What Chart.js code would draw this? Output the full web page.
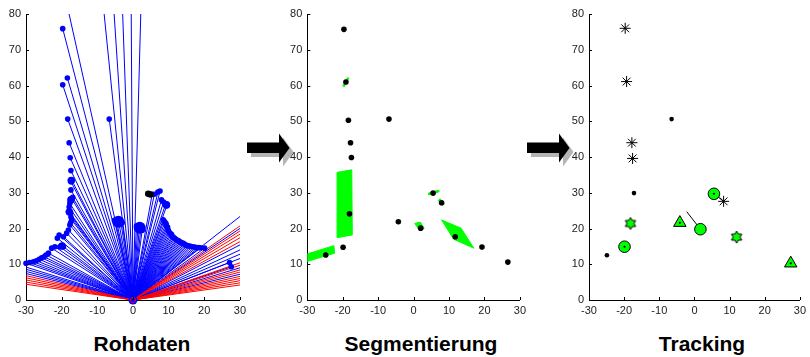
<!DOCTYPE html>
<html><head><meta charset="utf-8">
<script src="https://cdn.jsdelivr.net/npm/chart.js@4.4.1/dist/chart.umd.min.js"></script>
<style>
html,body{margin:0;padding:0;background:#fff;width:810px;height:357px;overflow:hidden;position:relative}
canvas{position:absolute;top:0}
.title{position:absolute;top:332px;font:bold 21px "Liberation Sans",Arial,sans-serif;line-height:24px;color:#000;transform:translateX(-50%);white-space:nowrap}
svg{position:absolute;left:0;top:0}
</style></head><body>
<svg width="810" height="357">
  <g id="arr">
    <path d="M251,146.5 L283,146.5 L283,137.5 L293.5,152 L283,166.5 L283,157 L251,157 Z" fill="#b4b4b4"/>
    <path d="M247,142.5 L279,142.5 L279,133.5 L289.5,148 L279,162.5 L279,153 L247,153 Z" fill="#000"/>
  </g>
  <use href="#arr" x="280" y="0"/>
</svg>
<canvas id="c1" width="250" height="325" style="left:0px"></canvas>
<canvas id="c2" width="250" height="325" style="left:280px"></canvas>
<canvas id="c3" width="250" height="325" style="left:560px"></canvas>
<div class="title" style="left:142px">Rohdaten</div>
<div class="title" style="left:421px">Segmentierung</div>
<div class="title" style="left:702px">Tracking</div>
<script>
// ---------- shared ticks ----------
const xTicks = [-30, -20, -10, 0, 10, 20, 30];
const yTicks = [0, 10, 20, 30, 40, 50, 60, 70, 80];

// ---------- Panel 1: Rohdaten ----------
const hitX = [27.6,27.1,
 20.1,19.0,18.4,17.8,17.3,16.7,16.2,15.7,15.3,14.9,14.6,14.3,14.0,13.6,13.3,13.0,12.7,12.3,12.1,11.8,11.5,11.2,11.0,10.8,10.5,10.2,10.0,9.8,9.7,9.4,9.3,9.0,8.7,8.5,
 9.5,9.2,8.6,8.0,7.6,7.0,6.0,5.4,
 2.6,2.2,1.8,1.4,1.0,
 -3.0,-3.4,-4.0,-4.6,-5.2,
 -6.65,
 -19.7,-18.4,-19.7,-18.3,-17.9,-17.6,-17.4,-17.2,-17.4,-17.4,-16.9,-17.2,-17.7,-17.9,-18.1,-17.5,-17.4,-17.2,-17.5,-17.7,-18.1,-18.6,-19.5,-20.7,-21.2,-19.5,-20.5,-21.9,-22.8,-23.7,-24.4,-24.95,-25.6,-26.3,-27.1,-27.95,-29.0,-30.0];
const hitY = [9.3,10.5,
 14.5,14.6,14.65,14.7,14.8,14.9,15.0,15.1,15.2,15.3,15.5,15.7,15.9,16.0,16.2,16.4,16.6,16.7,16.9,17.2,17.4,17.6,17.9,18.4,18.6,18.9,19.3,19.8,20.4,20.6,21.3,21.7,22.1,22.4,
 26.4,26.9,27.4,28.0,30.5,30.2,29.6,29.6,
 19.5,19.7,20.0,20.4,20.7,
 21.6,21.8,21.9,22.1,22.3,
 50.6,
 75.9,62.1,60.2,50.6,44.0,39.8,36.2,33.6,33.1,30.8,28.7,28.4,27.0,26.0,24.7,24.2,23.2,22.4,21.6,21.0,19.6,18.7,17.7,18.2,17.3,14.9,14.9,14.9,14.5,13.1,12.6,12.1,11.8,11.4,11.0,10.7,10.5,10.3];
const blobX = [-4.1, 1.9];
const blobY = [21.9, 20.2];
const midHitX = [-17.3, -17.8, -19.9, 9.4, -17.4];
const midHitY = [33.4, 24.6, 15.1, 26.6, 28.0];
const blackHitX = [4.3, 4.9];
const blackHitY = [29.7, 29.5];
// rays with no hit inside the view (blue), endpoints outside plot
const farX = [-22.4,-10.1,-6.6,-3.6,-0.6,2.75, -45,-45,-45,-45, 45,45,45,45,45,45,45,45];
const farY = [100,100,100,100,100,100, 13.8,12.9,12.0,11.1, 35.0,30.0,23.1,21.0,19.2,17.4,13.5,10.8];
// rays without return (red)
const missX = [-45,-45,-45,-45,-45, 45,45,45,45,45,45,45,45,45,45,45,45,45,45];
const missY = [10.2,9.3,8.4,7.5,6.6, 31.05,28.95,27.6,26.1,24.45,15.6,14.55,12.6,11.7,9.9,9.0,8.1,7.2,6.3];
const sensorX = [0];
const sensorY = [0];

// ---------- Panel 2: Segmentierung ----------
const segDotX = [-19.66,-19.1,-18.4,-17.8,-17.55,-18.1,-19.9,-24.8,-6.95,-4.3,2.0,5.5,7.9,11.75,19.3,26.6];
const segDotY = [75.7,61.0,50.3,44.0,39.85,24.1,14.75,12.6,50.6,21.9,20.1,29.9,27.2,17.7,14.8,10.6];
const segA_X = [-30.6,-22.5,-22.3,-30.6]; const segA_Y = [12.7,15.2,13.1,10.6];
const segB_X = [-21.6,-17.45,-17.3,-21.4]; const segB_Y = [35.7,36.4,18.2,17.45];
const segC_X = [-19.85,-18.4]; const segC_Y = [59.7,62.2];
const segD_X = [0.3,1.9,3.0,1.8]; const segD_Y = [21.4,21.8,20.0,19.4];
const segE_X = [4.2,7.0,7.1,4.3]; const segE_Y = [29.9,30.7,30.2,29.4];
const segF_X = [7.15,8.5]; const segF_Y = [28.2,26.6];
const segG_X = [7.9,13.4,17.0,11.3]; const segG_Y = [22.4,20.1,14.5,17.0];

// ---------- Panel 3: Tracking ----------
const starX = [-19.7,-19.3,-17.8,-17.6,8.3];
const starY = [76.0,61.1,44.0,39.6,27.6];
const dotX = [-6.5,-17.2,-24.9];
const dotY = [50.6,29.9,12.5];
const circX = [-19.9,1.7,5.55];
const circY = [14.9,19.8,29.7];
const triX = [-4.15,27.4];
const triY = [21.6,10.25];
const hexX = [-18.2,12.0];
const hexY = [21.4,17.6];
const centerX = [5.55,-4.15,27.4,-19.9];
const centerY = [29.7,21.6,10.25,14.9];
const velFromX = [-2.2, 5.55]; const velFromY = [24.7, 29.7];
const velToX = [1.7, 8.3];     const velToY = [19.8, 27.6];

// ---------- helpers ----------
const pts = (xs, ys) => xs.map((x, i) => ({x, y: ys[i]}));
const rays = (xs, ys) => { const d = []; xs.forEach((x, i) => { d.push({x: 0, y: 0}, {x, y: ys[i]}, {x: NaN, y: NaN}); }); return d; };
const poly = (xs, ys) => { const d = pts(xs, ys); d.push({x: xs[0], y: ys[0]}); return d; };
const segs = (ax, ay, bx, by) => { const d = []; ax.forEach((x, i) => d.push({x, y: ay[i]}, {x: bx[i], y: by[i]}, {x: NaN, y: NaN})); return d; };

const inwardTicks = {
  id: 'inwardTicks',
  afterDraw(chart) {
    const {ctx, chartArea: a, scales: {x, y}} = chart;
    ctx.save(); ctx.strokeStyle = '#000'; ctx.lineWidth = 1; ctx.beginPath();
    x.ticks.forEach(t => { const p = Math.round(x.getPixelForValue(t.value)) + 0.5; ctx.moveTo(p, a.bottom); ctx.lineTo(p, a.bottom - 3); });
    y.ticks.forEach(t => { const p = Math.round(y.getPixelForValue(t.value)) + 0.5; ctx.moveTo(a.left, p); ctx.lineTo(a.left + 3, p); });
    ctx.stroke(); ctx.restore();
  }
};

const tickFont = {family: '"Liberation Sans", Arial, sans-serif', size: 11};
function makeScales(yW) {
  return {
    x: {type: 'linear', min: -30, max: 30,
        afterFit(s) { s.height = 25; },
        afterBuildTicks(s) { s.ticks = xTicks.map(v => ({value: v})); },
        grid: {display: false, drawTicks: false},
        border: {display: true, color: '#000', width: 1},
        ticks: {padding: 4, color: '#222', font: tickFont, maxRotation: 0, autoSkip: false}},
    y: {type: 'linear', min: 0, max: 80,
        afterFit(s) { s.width = yW; },
        afterBuildTicks(s) { s.ticks = yTicks.map(v => ({value: v})); },
        grid: {display: false, drawTicks: false},
        border: {display: true, color: '#000', width: 1},
        ticks: {padding: 5, color: '#222', font: tickFont, autoSkip: false}}
  };
}
function makeChart(id, datasets, yW, padRight) {
  return new Chart(document.getElementById(id), {
    type: 'scatter',
    data: {datasets},
    options: {
      responsive: false, animation: false, devicePixelRatio: 1,
      layout: {autoPadding: false, padding: {top: 14, right: padRight, left: 0, bottom: 0}},
      plugins: {legend: {display: false}, tooltip: {enabled: false}},
      scales: makeScales(yW),
      elements: {line: {tension: 0}}
    },
    plugins: [inwardTicks]
  });
}

const BLUE = '#0000ff', RED = '#ff0000', GREEN = '#00ff00';
function dots(xs, ys, color, r, extra) {
  return Object.assign({data: pts(xs, ys), pointRadius: r, pointBackgroundColor: color, pointBorderColor: color, pointBorderWidth: 0, showLine: false, clip: false}, extra || {});
}

// Panel 1
makeChart('c1', [
  dots(sensorX, sensorY, 'rgba(0,0,0,0)', 2.5, {pointBorderColor: RED, pointBorderWidth: 1}),
  dots(blackHitX, blackHitY, '#000', 3.3),
  dots(blobX, blobY, BLUE, 6),
  dots(midHitX, midHitY, BLUE, 3.8),
  dots(hitX, hitY, BLUE, 2.8),
  dots(sensorX, sensorY, BLUE, 4.5, {pointRadius: 4.5}),
  {data: rays(missX, missY), showLine: true, borderColor: RED, borderWidth: 1, pointRadius: 0},
  {data: rays(farX, farY), showLine: true, borderColor: BLUE, borderWidth: 1, pointRadius: 0},
  {data: rays(hitX, hitY), showLine: true, borderColor: BLUE, borderWidth: 1, pointRadius: 0}
], 26, 10);

// Panel 2
const greenPoly = (xs, ys, bw) => ({data: poly(xs, ys), showLine: true, fill: 'shape', backgroundColor: GREEN, borderColor: GREEN, borderWidth: bw, pointRadius: 0});
makeChart('c2', [
  dots(segDotX, segDotY, '#000', 2.8),
  greenPoly(segA_X, segA_Y, 1),
  greenPoly(segB_X, segB_Y, 1),
  {data: pts(segC_X, segC_Y), showLine: true, borderColor: GREEN, borderWidth: 2.5, pointRadius: 0},
  greenPoly(segD_X, segD_Y, 1),
  greenPoly(segE_X, segE_Y, 1),
  {data: pts(segF_X, segF_Y), showLine: true, borderColor: GREEN, borderWidth: 3, pointRadius: 0},
  greenPoly(segG_X, segG_Y, 1)
], 27.3, 5.7);

// Panel 3
function hexagram(r) {
  const s = Math.ceil(2 * r + 4), c = document.createElement('canvas');
  c.width = c.height = s;
  const g = c.getContext('2d'), cx = s / 2, cy = s / 2;
  g.beginPath();
  for (let i = 0; i < 12; i++) {
    const a = -Math.PI / 2 + i * Math.PI / 6, rr = i % 2 === 0 ? r : r / Math.sqrt(3);
    g.lineTo(cx + rr * Math.cos(a), cy + rr * Math.sin(a));
  }
  g.closePath(); g.fillStyle = GREEN; g.fill(); g.strokeStyle = '#000'; g.lineWidth = 1; g.stroke();
  return c;
}
const hexImg = hexagram(6);
makeChart('c3', [
  dots(centerX, centerY, '#000', 1.1),
  {data: pts(hexX, hexY), pointStyle: hexImg, pointRadius: 6, showLine: false, clip: false},
  {data: pts(triX, triY), pointStyle: 'triangle', pointRadius: 7.2, pointBackgroundColor: GREEN, pointBorderColor: '#000', pointBorderWidth: 1, showLine: false, clip: false},
  {data: pts(circX, circY), pointStyle: 'circle', pointRadius: 5.8, pointBackgroundColor: GREEN, pointBorderColor: '#000', pointBorderWidth: 1, showLine: false, clip: false},
  {data: pts(starX, starY), pointStyle: 'star', pointRadius: 5.5, pointBackgroundColor: '#000', pointBorderColor: '#000', pointBorderWidth: 1, showLine: false, clip: false},
  dots(dotX, dotY, '#000', 2.3),
  {data: segs(velFromX, velFromY, velToX, velToY), showLine: true, borderColor: '#000', borderWidth: 1, pointRadius: 0}
], 29, 6.7);
</script>
</body></html>
